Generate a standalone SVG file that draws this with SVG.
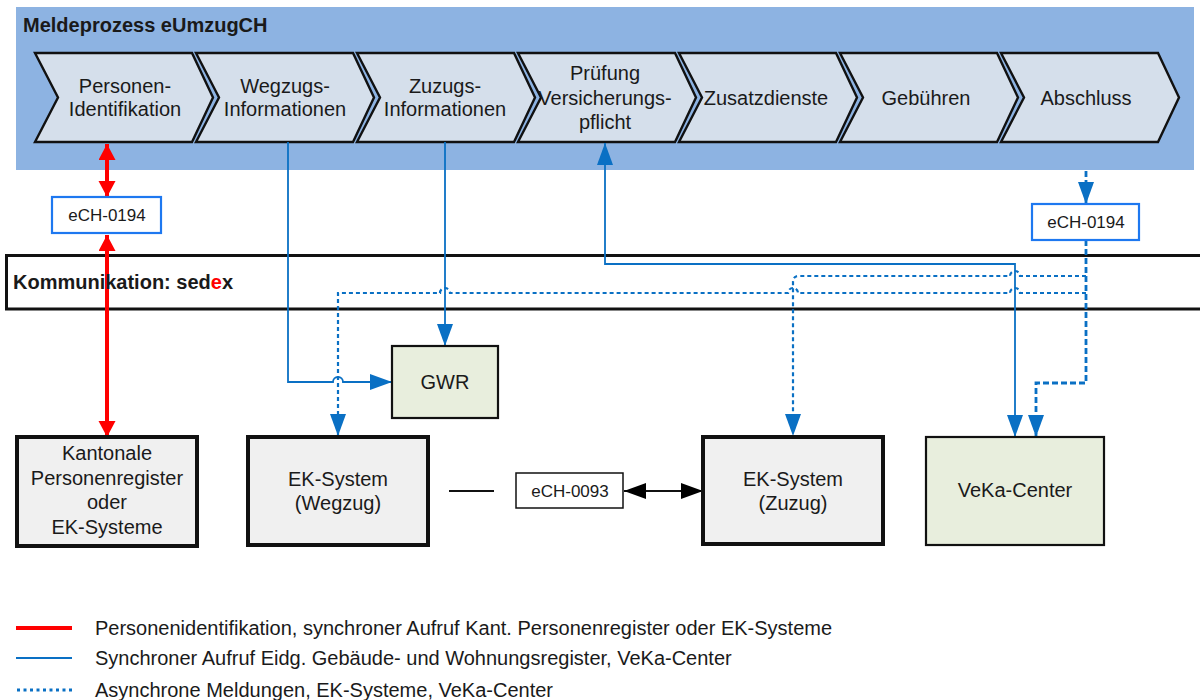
<svg xmlns="http://www.w3.org/2000/svg" width="1200" height="700" viewBox="0 0 1200 700">
<defs>
<style>
text{font-family:"Liberation Sans",Arial,sans-serif;fill:#1a1a1a;}
.t20{font-size:20px;text-anchor:middle;}
.t17{font-size:17px;text-anchor:middle;}
.leg{font-size:20px;}
.chev{fill:#d5dfeb;stroke:#111;stroke-width:2.4;stroke-linejoin:miter;}
.ek{fill:#f0f0f0;stroke:#111;stroke-width:4;}
.grn{fill:#e8eedd;stroke:#111;stroke-width:2.2;}
.ech{fill:#fff;stroke:#1e78f0;stroke-width:2.2;}
.sync{fill:none;stroke:#0a70c4;stroke-width:1.8;}
.async{fill:none;stroke:#0a70c4;stroke-width:2.2;stroke-dasharray:4 3;}
.asyncb{fill:none;stroke:#0a70c4;stroke-width:2.8;stroke-dasharray:6 3;}
.red{fill:none;stroke:#ff0000;stroke-width:4;}
</style>
<marker id="ab" markerUnits="userSpaceOnUse" markerWidth="24" markerHeight="18" refX="22" refY="8" orient="auto-start-reverse"><path d="M0,0 L22,8 L0,16 z" fill="#0a70c4"/></marker>
<marker id="ar" markerUnits="userSpaceOnUse" markerWidth="18" markerHeight="18" refX="16" refY="8.5" orient="auto-start-reverse"><path d="M0,0 L16,8.5 L0,17 z" fill="#ff0000"/></marker>
<marker id="ak" markerUnits="userSpaceOnUse" markerWidth="24" markerHeight="18" refX="22" refY="8" orient="auto-start-reverse"><path d="M0,0 L22,8 L0,16 z" fill="#000"/></marker>
</defs>

<rect id="header" x="16" y="7" width="1178" height="163" fill="#8db3e2"/>
<text x="23" y="32" style="font-size:20px;font-weight:bold;">Meldeprozess eUmzugCH</text>

<g id="chevron-1"><path class="chev" d="M35,53 L192,53 L213,97.5 L192,142 L35,142 L58,97.5 Z"/><text class="t20" x="125" y="93">Personen-</text><text class="t20" x="125" y="116">Identifikation</text></g>
<g id="chevron-2"><path class="chev" d="M196,53 L353,53 L374,97.5 L353,142 L196,142 L219,97.5 Z"/><text class="t20" x="285" y="93">Wegzugs-</text><text class="t20" x="285" y="116">Informationen</text></g>
<g id="chevron-3"><path class="chev" d="M357,53 L514,53 L535,97.5 L514,142 L357,142 L380,97.5 Z"/><text class="t20" x="445" y="93">Zuzugs-</text><text class="t20" x="445" y="116">Informationen</text></g>
<g id="chevron-4"><path class="chev" d="M518,53 L675,53 L696,97.5 L675,142 L518,142 L541,97.5 Z"/><text class="t20" x="605" y="80">Prüfung</text><text class="t20" x="605" y="105">Versicherungs-</text><text class="t20" x="605" y="129">pflicht</text></g>
<g id="chevron-5"><path class="chev" d="M679,53 L836,53 L857,97.5 L836,142 L679,142 L702,97.5 Z"/><text class="t20" x="766" y="105">Zusatzdienste</text></g>
<g id="chevron-6"><path class="chev" d="M840,53 L997,53 L1018,97.5 L997,142 L840,142 L863,97.5 Z"/><text class="t20" x="926" y="105">Gebühren</text></g>
<g id="chevron-7"><path class="chev" d="M1001,53 L1158,53 L1179,97.5 L1158,142 L1001,142 L1024,97.5 Z"/><text class="t20" x="1086" y="105">Abschluss</text></g>

<g id="sedex"><path d="M1203,255.5 L6.5,255.5 L6.5,309 L1203,309" fill="#fff" stroke="#111" stroke-width="3"/></g>

<g id="connectors">
<path class="red" d="M107,144 L107,197" marker-start="url(#ar)" marker-end="url(#ar)"/>
<path class="red" d="M107,235 L107,437" marker-start="url(#ar)" marker-end="url(#ar)"/>
<path class="sync" d="M288,142 L288,382 L333,382 A5,5 0 0 1 343,382 L392,382" marker-end="url(#ab)"/>
<path class="sync" d="M445,142 L445,346" marker-end="url(#ab)"/>
<path class="sync" d="M1015,437 L1015,264 L605,264 L605,143" marker-start="url(#ab)" marker-end="url(#ab)"/>
<path class="async" d="M1086,293 L1020,293 A5,5 0 0 0 1010,293 L798,293 A5,5 0 0 0 788,293 L450,293 A5,5 0 0 0 440,293 L338,293 L338,436" marker-end="url(#ab)"/>
<path class="async" d="M1086,276 L1020,276 A5,5 0 0 0 1010,276 L799,276 Q793,276 793,282 L793,436" marker-end="url(#ab)"/>
<path class="asyncb" d="M1086,171 L1086,204" marker-end="url(#ab)"/>
<path class="asyncb" d="M1086,240 L1086,383 L1036,383 L1036,437" marker-end="url(#ab)"/>
<path d="M449,491 L494,491" stroke="#111" stroke-width="1.8"/>
<path d="M624,491 L703,491" stroke="#111" stroke-width="1.8" marker-start="url(#ak)" marker-end="url(#ak)"/>
</g>

<text x="13" y="289" style="font-size:20px;font-weight:bold;">Kommunikation: sed<tspan style="fill:#ff0000">e</tspan>x</text>

<g id="ech0194-left"><rect class="ech" x="52" y="197" width="109" height="36"/><text class="t17" x="107" y="221">eCH-0194</text></g>
<g id="ech0194-right"><rect class="ech" x="1032" y="204" width="107" height="36"/><text class="t17" x="1086" y="228">eCH-0194</text></g>

<g id="kantonale"><rect class="ek" x="17" y="437" width="180" height="109"/><text class="t20" x="107" y="460">Kantonale</text><text class="t20" x="107" y="485">Personenregister</text><text class="t20" x="107" y="509">oder</text><text class="t20" x="107" y="534">EK-Systeme</text></g>
<g id="ek-wegzug"><rect class="ek" x="248" y="437" width="180" height="108"/><text class="t20" x="338" y="486">EK-System</text><text class="t20" x="338" y="510">(Wegzug)</text></g>
<g id="gwr"><rect class="grn" x="392" y="346" width="106" height="72"/><text class="t20" x="445" y="389">GWR</text></g>
<g id="ech0093"><rect x="516" y="473" width="107" height="35" fill="#fff" stroke="#111" stroke-width="1.5"/><text class="t17" x="570" y="497">eCH-0093</text></g>
<g id="ek-zuzug"><rect class="ek" x="703" y="437" width="180" height="107"/><text class="t20" x="793" y="486">EK-System</text><text class="t20" x="793" y="510">(Zuzug)</text></g>
<g id="veka"><rect class="grn" x="926" y="437" width="178" height="108"/><text class="t20" x="1015" y="497">VeKa-Center</text></g>

<g id="legend">
<path d="M16,628 L72,628" stroke="#ff0000" stroke-width="4"/>
<text class="leg" x="95" y="635">Personenidentifikation, synchroner Aufruf Kant. Personenregister oder EK-Systeme</text>
<path d="M16,658 L72,658" stroke="#0a70c4" stroke-width="2"/>
<text class="leg" x="95" y="665">Synchroner Aufruf Eidg. Gebäude- und Wohnungsregister, VeKa-Center</text>
<path d="M17,690 L72,690" stroke="#0a70c4" stroke-width="3" stroke-dasharray="3 3.5"/>
<text class="leg" x="95" y="697">Asynchrone Meldungen, EK-Systeme, VeKa-Center</text>
</g>
</svg>
